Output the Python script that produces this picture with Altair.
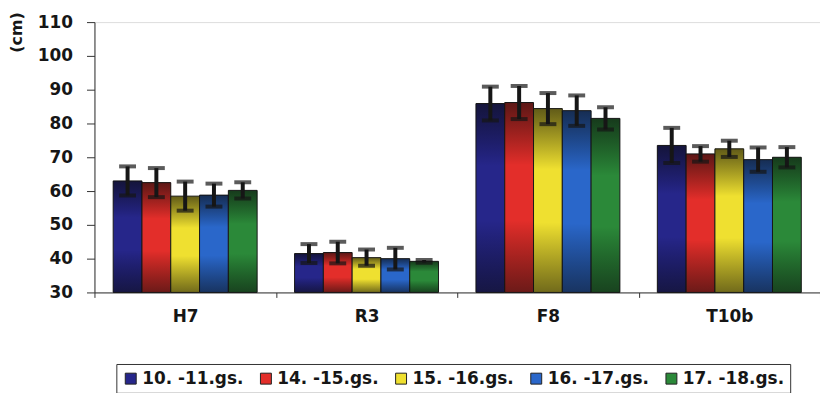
import altair as alt
import pandas as pd

categories = ["H7", "R3", "F8", "T10b"]
series = ["10. -11.gs.", "14. -15.gs.", "15. -16.gs.", "16. -17.gs.", "17. -18.gs."]
colors = ["#26268a", "#e32e2a", "#efe030", "#2a67ca", "#2b8939"]

h7_mean = [63.0, 62.5, 58.5, 58.8, 60.2]
r3_mean = [41.5, 41.8, 40.3, 40.0, 39.2]
f8_mean = [85.9, 86.2, 84.4, 83.8, 81.5]
t10b_mean = [73.5, 71.0, 72.5, 69.3, 70.0]

h7_err = [4.3, 4.3, 4.3, 3.4, 2.4]
r3_err = [2.8, 3.2, 2.4, 3.2, 0.4]
f8_err = [5.0, 4.9, 4.6, 4.5, 3.3]
t10b_err = [5.2, 2.3, 2.4, 3.6, 3.0]

y_ticks = [30, 40, 50, 60, 70, 80, 90, 100, 110]

means = [h7_mean, r3_mean, f8_mean, t10b_mean]
errs = [h7_err, r3_err, f8_err, t10b_err]

rows = []
for ci, c in enumerate(categories):
    for si, s in enumerate(series):
        m = means[ci][si]
        e = errs[ci][si]
        rows.append({"cat": c, "series": s, "mean": m, "lo": m - e, "hi": m + e})
df = pd.DataFrame(rows)

FONT = "DejaVu Sans"
INK = "#161616"

x_axis = alt.Axis(
    title=None, labelAngle=0, tickBand="extent", domainColor="#333", tickColor="#333",
    tickSize=5, labelFont=FONT, labelFontWeight="bold", labelFontSize=17,
    labelColor=INK, labelPadding=11,
)
y_axis = alt.Axis(
    title="(cm)", values=y_ticks, tickCount=9, grid=False, domainColor="#333",
    tickColor="#333", tickSize=8, labelFont=FONT, labelFontWeight="bold",
    labelFontSize=17, labelColor=INK, labelPadding=14, labelOverlap=False,
    titleFont=FONT, titleFontWeight="bold", titleFontSize=16, titleColor=INK,
    titleX=-78, titleY=10, titleAngle=270, titleAlign="center", titleBaseline="middle",
)
x_enc = alt.X("cat:N", sort=categories, scale=alt.Scale(paddingInner=0, paddingOuter=0), axis=x_axis)
xo_enc = alt.XOffset("series:N", sort=series, scale=alt.Scale(paddingInner=0, paddingOuter=0.65))
y_scale = alt.Scale(domain=[30, 110], zero=False, nice=False)

base = alt.Chart(df)

bars = base.mark_bar(stroke="#1a1a1a", strokeWidth=1).encode(
    x=x_enc,
    xOffset=xo_enc,
    y=alt.Y("mean:Q", scale=y_scale, axis=y_axis),
    y2=alt.datum(30),
    color=alt.Color(
        "series:N",
        sort=series,
        scale=alt.Scale(domain=series, range=colors),
        legend=alt.Legend(
            title=None, orient="none", legendX=22, legendY=344, direction="horizontal",
            strokeColor="#333", padding=6, symbolType="square", symbolSize=121,
            symbolStrokeColor="#222", symbolStrokeWidth=1, labelFont=FONT,
            labelFontWeight="bold", labelFontSize=17, labelColor=INK,
            columnPadding=14, labelOffset=3, labelLimit=200,
        ),
    ),
)

shade = base.mark_bar(
    color=alt.LinearGradient(
        gradient="linear", x1=0, x2=0, y1=0, y2=1,
        stops=[
            alt.GradientStop(color="rgba(10,10,10,0.62)", offset=0),
            alt.GradientStop(color="rgba(0,0,0,0)", offset=0.33),
            alt.GradientStop(color="rgba(0,0,0,0)", offset=0.62),
            alt.GradientStop(color="rgba(10,10,10,0.55)", offset=1),
        ],
    )
).encode(x=x_enc, xOffset=xo_enc, y=alt.Y("mean:Q", scale=y_scale, axis=y_axis), y2=alt.datum(30))

rules = base.mark_rule(color=INK, strokeWidth=4).encode(
    x=x_enc, xOffset=xo_enc, y=alt.Y("lo:Q", scale=y_scale, axis=y_axis), y2="hi:Q"
)
cap_hi = base.mark_tick(color=INK, thickness=4, size=17).encode(
    x=x_enc, xOffset=xo_enc, y=alt.Y("hi:Q", scale=y_scale, axis=y_axis)
)
cap_lo = base.mark_tick(color=INK, thickness=4, size=17).encode(
    x=x_enc, xOffset=xo_enc, y=alt.Y("lo:Q", scale=y_scale, axis=y_axis)
)

chart = (
    alt.layer(bars, shade, rules, cap_hi, cap_lo)
    .properties(
        width=730, height=272, autosize="none",
        padding={"left": 87, "top": 13, "right": 0, "bottom": 100},
    )
    .configure_view(strokeWidth=0)
    .configure(background="white")
)

chart.save("out.html", embed_options={"renderer": "svg", "actions": False})
